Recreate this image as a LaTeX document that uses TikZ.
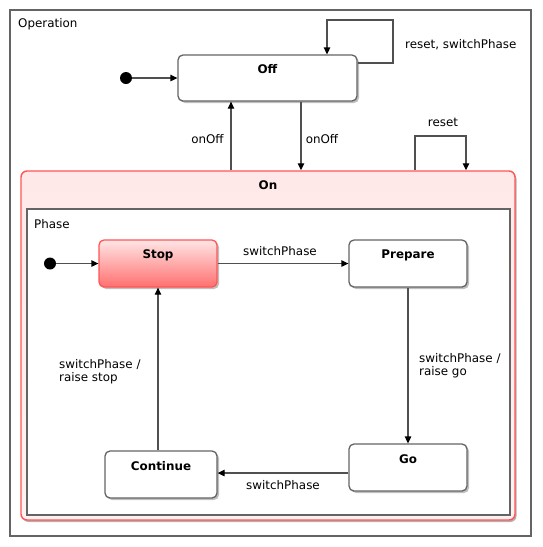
\documentclass[tikz,border=0pt]{standalone}
\usepackage{fontspec}
\setmainfont{DejaVu Sans}
\usetikzlibrary{shadows,arrows.meta,positioning}
\definecolor{lc}{RGB}{80,80,80}
\definecolor{bc}{RGB}{100,100,100}
\definecolor{rb}{RGB}{255,85,85}
\definecolor{pk}{RGB}{255,232,232}
\definecolor{rd}{RGB}{255,112,112}
\tikzset{
  txt/.style={font=\fontsize{11.9}{13.5}\selectfont, inner sep=0pt},
  ttl/.style={font=\fontsize{11.9}{14}\selectfont\bfseries, inner sep=0pt},
  statebox/.style={draw=bc, line width=1.3pt, rounded corners=5pt, fill=white,
     drop shadow={shadow xshift=2pt, shadow yshift=-2pt, opacity=0.25, fill=black}},
  tr/.style={draw=lc, line width=1.3pt, -{Triangle[length=7pt,width=6.5pt,fill=black,color=black]}},
  initdot/.style={circle, fill=black, minimum size=12pt, inner sep=0pt},
  frame/.style={draw=bc, line width=1.5pt, fill=white}
}
\begin{document}
\begin{tikzpicture}[x={(1pt,0)}, y={(0,-1pt)}]
\useasboundingbox (0,0) rectangle (542,547);
% outer frame
\node[frame, minimum width=521pt, minimum height=526pt] (operation) at (270.5,273) {};
\node[txt, anchor=west] (opT) at (18,24) {Operation};
% Off
\node[statebox, minimum width=179pt, minimum height=46pt] (off) at (267.5,78) {};
\node[ttl] (offT) at (267.5,69) {Off};
\node[initdot] (init1) at (126,78) {};
\draw[tr] (init1) -- (off.west);
\draw[tr] ([yshift=15pt]off.east) -| (393,20) -| ([xshift=59.5pt]off.north);
\node[txt, anchor=west] (l1) at (405,45) {reset, switchPhase};
% On
\node[draw=rb, line width=1.4pt, rounded corners=6pt, top color=pk, bottom color=pk!60,
  drop shadow={shadow xshift=1.5pt, shadow yshift=-2pt, opacity=0.3, fill=black},
  minimum width=494pt, minimum height=349pt] (on) at (268,345.5) {};
\node[ttl] (onT) at (268,185) {On};
\draw[tr] ([xshift=-37pt]on.north) -- ([xshift=-36.5pt]off.south);
\draw[tr] ([xshift=33.5pt]off.south) -- ([xshift=33pt]on.north);
\node[txt] (l2) at (207.5,139) {onOff};
\node[txt] (l3) at (322,139) {onOff};
\draw[tr] ([xshift=147pt]on.north) |- (440,136) -| ([xshift=198pt]on.north);
\node[txt] (l4) at (443,122) {reset};
% Phase
\node[frame, minimum width=483pt, minimum height=306pt] (phase) at (268.5,362) {};
\node[txt, anchor=west] (phT) at (34,224) {Phase};
% inner states
\node[statebox, draw=rb, top color=white!82!rd, bottom color=rd, minimum width=118pt, minimum height=47pt] (stop) at (158,263.5) {};
\node[ttl] (stopT) at (158,255) {Stop};
\node[statebox, minimum width=118pt, minimum height=47pt] (prepare) at (408,263.5) {};
\node[ttl] (prepT) at (408,255) {Prepare};
\node[statebox, minimum width=118pt, minimum height=47pt] (go) at (408,467.5) {};
\node[ttl] (goT) at (408,459) {Go};
\node[statebox, minimum width=112pt, minimum height=47pt] (continue) at (161,474.5) {};
\node[ttl] (contT) at (161,466) {Continue};
\node[initdot] (init2) at (50,263.5) {};
\draw[tr] (init2) -- (stop.west);
\draw[tr] (stop.east) -- (prepare.west);
\node[txt] (l5) at (280,251) {switchPhase};
\draw[tr] (prepare.south) -- (go.north);
\node[txt, anchor=north west, align=left] (l6) at (419,353) {switchPhase /\\raise go};
\draw[tr] ([yshift=-5.5pt]go.west) -- ([yshift=-5.5pt]go.west -| continue.east);
\node[txt] (l7) at (283,485) {switchPhase};
\draw[tr] (continue.north -| stop.south) -- (stop.south);
\node[txt, anchor=north west, align=left] (l8) at (59,359) {switchPhase /\\raise stop};
\end{tikzpicture}
\end{document}
